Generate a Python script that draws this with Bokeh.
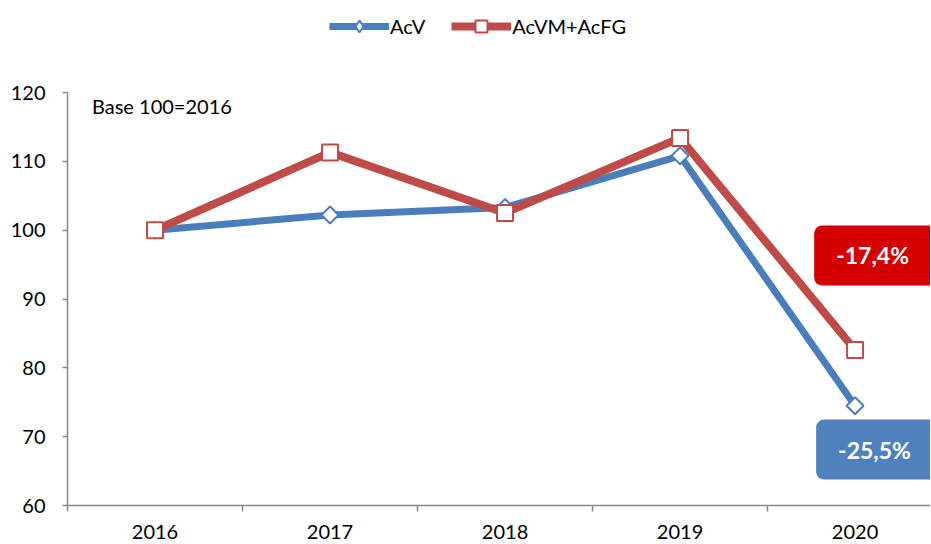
import math
from bokeh.plotting import figure
from bokeh.layouts import column
from bokeh.models import Legend, LegendItem, FixedTicker, Label, Range1d
from bokeh.embed import file_html
from bokeh.resources import INLINE

years = ["2016", "2017", "2018", "2019", "2020"]
acv = [100.0, 102.2, 103.3, 110.8, 74.5]
acvm_acfg = [100.0, 111.3, 102.5, 113.4, 82.6]
y_ticks = [60, 70, 80, 90, 100, 110, 120]
note_text = "Base 100=2016"
change_red = "-17,4%"
change_blue = "-25,5%"

BLUE = "#4A7EBB"
RED = "#BE4B48"
FONT = "Lato"
FS = "20px"

xs = list(range(len(years)))

# ---- legend strip (its renderers sit outside its visible range) ----
lg = figure(width=930, height=50, output_backend="svg", toolbar_location=None,
            x_range=Range1d(0, 1), y_range=Range1d(0, 1), min_border=0)
lg.axis.visible = False
lg.grid.visible = False
lg.outline_line_color = None
l_bl = lg.line(xs, acv, line_color=BLUE, line_width=7)
l_bm = lg.scatter(xs, acv, marker="diamond", size=16,
                  fill_color="white", line_color=BLUE, line_width=2)
l_rl = lg.line(xs, acvm_acfg, line_color=RED, line_width=8)
l_rm = lg.scatter(xs, acvm_acfg, marker="square", size=14, fill_color="white",
                  line_color=RED, line_width=2)
legend = Legend(items=[LegendItem(label="AcV", renderers=[l_bl, l_bm]),
                       LegendItem(label="AcVM+AcFG", renderers=[l_rl, l_rm])],
                orientation="horizontal", location=(262, 9),
                glyph_width=60, glyph_height=30, label_standoff=1, spacing=26,
                padding=0, margin=0, border_line_color=None,
                background_fill_alpha=0, label_height=30,
                label_text_font=FONT, label_text_font_size=FS,
                label_text_color="#000000")
lg.add_layout(legend, "center")

# ---- main chart ----
p = figure(width=930, height=493, output_backend="svg", toolbar_location=None,
           x_range=Range1d(-0.5, 4.431), y_range=Range1d(60, 120),
           min_border_left=67, min_border_right=0, min_border_top=42, min_border_bottom=38)
p.outline_line_color = None
p.xgrid.visible = False
p.ygrid.visible = False

p.yaxis.ticker = FixedTicker(ticks=y_ticks)
p.xaxis.ticker = FixedTicker(ticks=xs, minor_ticks=[i - 0.5 for i in xs])
p.xaxis.major_label_overrides = {i: y for i, y in enumerate(years)}
for ax in (p.xaxis, p.yaxis):
    ax.axis_line_color = "#868686"
    ax.axis_line_width = 1.5
    ax.major_label_text_font = FONT
    ax.major_label_text_font_size = FS
    ax.major_label_text_color = "#000000"
p.yaxis.major_tick_line_color = "#868686"
p.yaxis.major_tick_line_width = 1.5
p.yaxis.major_tick_out = 5
p.yaxis.major_tick_in = 0
p.yaxis.minor_tick_line_color = None
p.yaxis.major_label_standoff = 17
p.xaxis.major_tick_line_color = None
p.xaxis.minor_tick_line_color = "#868686"
p.xaxis.minor_tick_line_width = 1.5
p.xaxis.minor_tick_out = 6
p.xaxis.minor_tick_in = 0
p.xaxis.major_label_standoff = 13

p.line(xs, acv, line_color=BLUE, line_width=7)
p.scatter(xs, acv, marker="square", angle=math.pi / 4, size=12, fill_color="white",
          line_color=BLUE, line_width=2)
p.line(xs, acvm_acfg, line_color=RED, line_width=8)
p.scatter(xs, acvm_acfg, marker="square", size=16, fill_color="white",
          line_color=RED, line_width=2)

p.add_layout(Label(x=-0.36, y=118.1, text=note_text, text_font=FONT,
                   text_font_size=FS, text_color="#000000",
                   text_baseline="middle", text_align="left"))

p.add_layout(Label(x=4.123, y=96.32, text=change_red, text_font=FONT,
                   text_font_size="23px", text_font_style="bold", text_color="white",
                   text_baseline="middle", text_align="center",
                   background_fill_color="#D40000", border_radius=8,
                   padding=(22, 30, 16, 16)))
p.add_layout(Label(x=4.134, y=68.13, text=change_blue, text_font=FONT,
                   text_font_size="23px", text_font_style="bold", text_color="white",
                   text_baseline="middle", text_align="center",
                   background_fill_color="#4F81BD", border_radius=8,
                   padding=(22, 30, 16, 16)))

open("out.html", "w").write(file_html(column(lg, p, spacing=0), INLINE))
